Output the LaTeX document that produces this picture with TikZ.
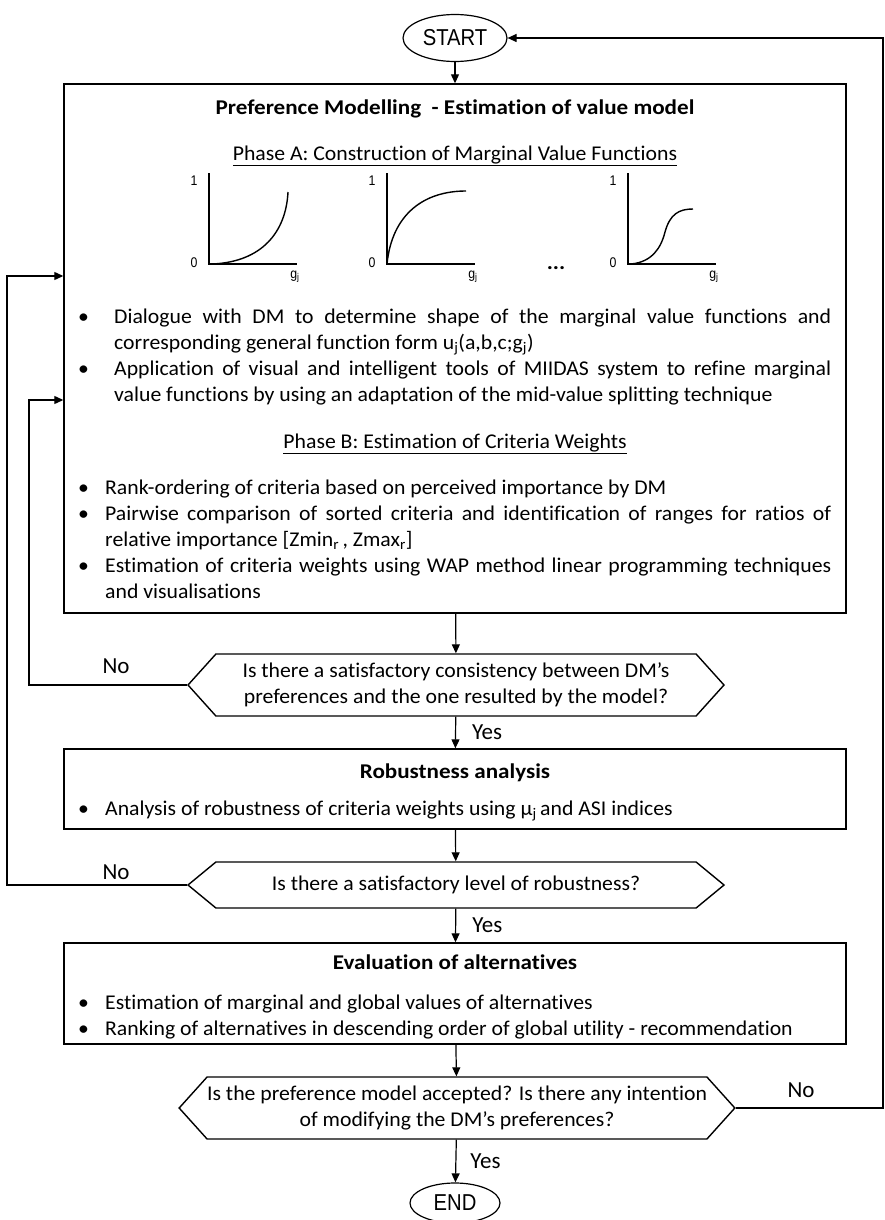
\documentclass[tikz,border=0pt]{standalone}
\usepackage{fontspec}
\setmainfont{Carlito}[FakeStretch=1.035, Ligatures=NoCommon, BoldFeatures={FakeStretch=1.1}]
\newfontfamily\labelfont{Carlito}
\newfontfamily\arialfont{Liberation Sans}[FakeStretch=0.88]
\usetikzlibrary{arrows.meta,shapes.geometric,shapes.symbols}

\newcommand{\bitem}[2][22pt]{\par\hangindent=#1\hangafter=1\noindent\makebox[#1][l]{\hspace{-3pt}\textbullet}#2\par}

\tikzset{
  flow/.style={draw, line width=1.2pt, -{Triangle[length=9pt,width=8pt]}},
  stage/.style={draw, line width=1.4pt, minimum width=782pt, inner sep=0pt},
  decision/.style={draw, line width=1.4pt, shape=signal, signal to=west and east,
    minimum width=536pt, align=center, inner sep=0pt, font=\fontsize{21}{26}\selectfont},
  terminal/.style={draw, ellipse, line width=1.2pt, inner sep=0pt,
    font=\arialfont\fontsize{23}{26}\selectfont},
  boxtext/.style={font=\fontsize{21}{26}\selectfont, inner sep=0pt},
  bullets/.style={boxtext, anchor=north west, text width=750pt, align=justify},
  heading/.style={font=\bfseries\fontsize{21}{25}\selectfont, inner sep=0pt, anchor=base},
  axis/.style={line width=1.4pt},
  axlabel/.style={font=\arialfont\fontsize{14}{14}\selectfont, inner sep=0pt},
  answer/.style={font=\labelfont\fontsize{23}{23}\selectfont, inner sep=0pt},
}

\begin{document}
\begin{tikzpicture}[x=1pt, y=-1pt]
\useasboundingbox (0,0) rectangle (885,1220);

% main flow
\node[terminal, minimum width=104pt, minimum height=47pt] (start) at (455,38) {START};
\node[stage, minimum height=529pt] (model) at (455,348.5) {};
\node[decision, minimum height=62pt, signal pointer angle=96] (consist) at (456,685)
  {Is there a satisfactory consistency between DM’s\\preferences and the one resulted by the model?};
\node[stage, minimum height=80pt] (robust) at (455,789) {};
\node[decision, minimum height=46pt, signal pointer angle=79] (level) at (456,885)
  {Is there a satisfactory level of robustness?};
\node[stage, minimum height=101pt] (evalu) at (455,993.5) {};
\node[decision, minimum height=62pt, signal pointer angle=96] (accept) at (457,1108)
  {Is the preference model accepted? Is there any intention\\of modifying the DM’s preferences?};
\node[terminal, minimum width=90pt, minimum height=40pt] (finish) at (455,1203) {END};

% preference modelling box
\node[heading] (mtitle) at (455,115) {Preference Modelling\ \ - Estimation of value model};
\node[boxtext, anchor=base] (phasea) at (455,160) {\underline{Phase A: Construction of Marginal Value Functions}};
\foreach \ox in {209,387,628} {
  \draw[axis] (\ox,173) -- (\ox,264) -- (\ox+88,264);
  \node[axlabel] at (\ox-15,181) {1};
  \node[axlabel] at (\ox-15,263) {0};
  \node[axlabel] at (\ox+86,277) {g\textsubscript{j}};
}
\draw[axis] (212,264) .. controls (262,262) and (286,232) .. (288,192);
\draw[axis] (387,264) .. controls (392,214) and (424,191) .. (466,191);
\draw[axis] (631,264) .. controls (652,262) and (661,248) .. (665,232)
  .. controls (670,214) and (679,209) .. (693,209);
\node[boxtext] (dots) at (556,268) {\textbf{...}};
\node[bullets] (phaseatext) at (81,297) {%
  \bitem[33pt]{Dialogue with DM to determine shape of the marginal value functions and\linebreak
    corresponding general function form u\textsubscript{j}(a,b,c;g\textsubscript{j})}
  \bitem[33pt]{Application of visual and intelligent tools of MIIDAS system to refine marginal\linebreak
    value functions by using an adaptation of the mid-value splitting technique}};
\node[boxtext, anchor=base] (phaseb) at (455,448) {\underline{Phase B: Estimation of Criteria Weights}};
\node[bullets] (phasebtext) at (81,468) {%
  \bitem[24pt]{Rank-ordering of criteria based on perceived importance by DM}
  \bitem[24pt]{Pairwise comparison of sorted criteria and identification of ranges for ratios of\linebreak
    relative importance [Zmin\textsubscript{r}\,, Zmax\textsubscript{r}]}
  \bitem[24pt]{Estimation of criteria weights using WAP method linear programming techniques\linebreak
    and visualisations}};

% robustness box
\node[heading] (rtitle) at (455,778) {Robustness analysis};
\node[boxtext, anchor=base west] (rtext) at (81,815)
  {\makebox[24pt][l]{\hspace{-3pt}\textbullet}Analysis of robustness of criteria weights using μ\textsubscript{j}\,and ASI indices};

% evaluation box
\node[heading] (etitle) at (455,969) {Evaluation of alternatives};
\node[bullets] (etext) at (81,983) {%
  \bitem[24pt]{Estimation of marginal and global values of alternatives}
  \bitem[24pt]{Ranking of alternatives in descending order of global utility - recommendation}};

% connectors
\draw[flow] (start) -- (model);
\draw[flow] (model) -- (consist);
\draw[flow] (consist) -- node[answer, anchor=west, xshift=16pt] (yes1) {Yes} (robust);
\draw[flow] (robust) -- (level);
\draw[flow] (level) -- node[answer, anchor=west, xshift=16pt] (yes2) {Yes} (evalu);
\draw[flow] (evalu) -- (accept);
\draw[flow] (accept) -- node[answer, anchor=west, xshift=14pt] (yes3) {Yes} (finish);

% feedback loops
\coordinate (loopA) at (29,400);
\coordinate (loopB) at (7,276);
\coordinate (loopC) at (883,38);
\draw[flow] (consist.west) -| (loopA) -- (loopA -| model.west);
\draw[flow] (level.west) -| (loopB) -- (loopB -| model.west);
\draw[flow] (accept.east) -| (loopC) -- (start);
\node[answer] (no1) at (116,666) {No};
\node[answer] (no2) at (116,872) {No};
\node[answer] (no3) at (801,1090) {No};
\end{tikzpicture}
\end{document}
